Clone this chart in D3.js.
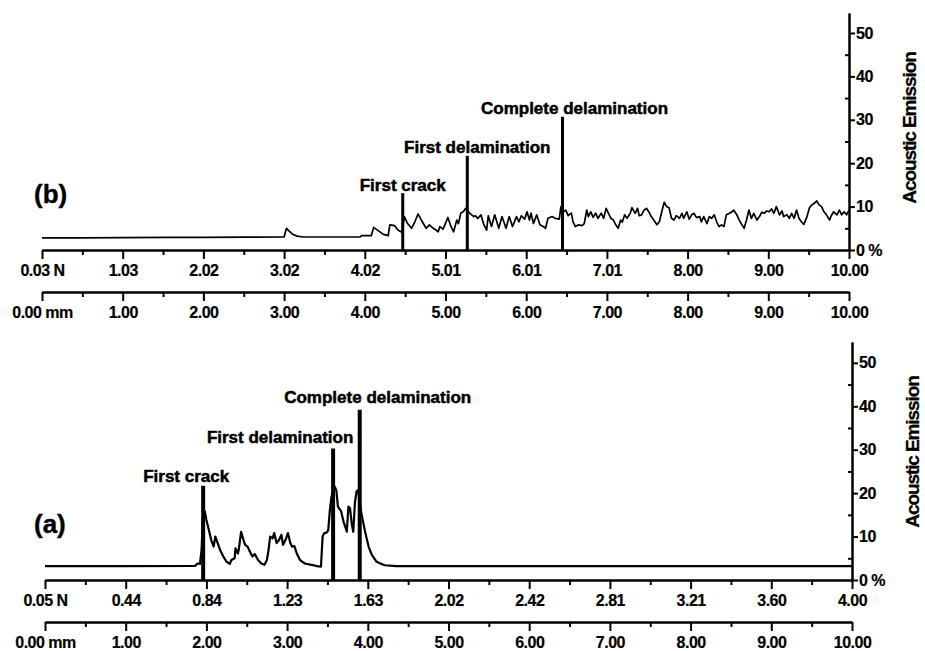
<!DOCTYPE html>
<html>
<head>
<meta charset="utf-8">
<script src="https://cdn.jsdelivr.net/npm/d3@7"></script>
<style>
  body { margin: 0; background: #fff; }
  text { font-family: 'Liberation Sans', Arial, sans-serif; font-weight: bold; fill: #000; }
</style>
</head>
<body>
<script>
// tick labels
const mmTicks = ['0.00 mm', '1.00', '2.00', '3.00', '4.00', '5.00', '6.00', '7.00', '8.00', '9.00', '10.00'];
const forceTicksB = ['0.03 N', '1.03', '2.02', '3.02', '4.02', '5.01', '6.01', '7.01', '8.00', '9.00', '10.00'];
const forceTicksA = ['0.05 N', '0.44', '0.84', '1.23', '1.63', '2.02', '2.42', '2.81', '3.21', '3.60', '4.00'];
const aeTicks = [0, 10, 20, 30, 40, 50];
const aeMinor = [5, 15, 25, 35, 45];

// acoustic emission signal, [distance mm, AE %]
const signalB = [
  [0, 2.8], [0.5, 2.8], [1.0, 2.85], [1.6, 2.9], [2.0, 2.9], [2.5, 2.95], [3.0, 3.0],
  [3.03, 5.0], [3.06, 4.4], [3.10, 3.7], [3.16, 3.2], [3.24, 3.0], [3.6, 3.0], [3.94, 3.0], [3.96, 3.3], [4.08, 3.3],
  [4.11, 5.2], [4.17, 4.4], [4.23, 3.6], [4.29, 3.3], [4.31, 5.8], [4.37, 5.6], [4.41, 4.6], [4.46, 4.1],
  [4.49, 7.7], [4.53, 6.1], [4.58, 5.0], [4.62, 6.5], [4.66, 8.3], [4.70, 6.9], [4.76, 5.0], [4.80, 5.8],
  [4.85, 5.0], [4.91, 4.2], [4.93, 5.4], [4.97, 4.8], [5.03, 7.5], [5.06, 5.8], [5.10, 4.2], [5.14, 6.9],
  [5.16, 6.1], [5.19, 8.5], [5.22, 8.8], [5.25, 9.6], [5.28, 9.0], [5.30, 8.5], [5.35, 7.7], [5.37, 7.9],
  [5.40, 7.3], [5.44, 8.1], [5.47, 6.1], [5.51, 4.6], [5.53, 7.9], [5.57, 5.4], [5.61, 8.1], [5.66, 5.0],
  [5.70, 7.7], [5.75, 5.0], [5.79, 7.7], [5.83, 5.4], [5.88, 7.7], [5.91, 6.5], [5.94, 7.9], [5.98, 7.1],
  [6.01, 8.8], [6.04, 6.9], [6.06, 8.5], [6.09, 6.1], [6.13, 8.1], [6.17, 5.8], [6.21, 5.4], [6.24, 5.0],
  [6.27, 7.3], [6.32, 7.7], [6.36, 7.3], [6.41, 7.1], [6.43, 10.0], [6.46, 8.8], [6.49, 9.2], [6.52, 7.9],
  [6.56, 8.5], [6.58, 6.5], [6.61, 5.4], [6.65, 5.8], [6.69, 5.6], [6.72, 6.1], [6.75, 9.2], [6.77, 7.7],
  [6.80, 8.8], [6.83, 7.5], [6.86, 8.5], [6.89, 7.3], [6.93, 8.5], [6.96, 7.3], [6.99, 9.6], [7.02, 8.45],
  [7.05, 7.3], [7.08, 6.9], [7.11, 5.8], [7.14, 5.0], [7.17, 6.9], [7.19, 6.4], [7.22, 8.1], [7.25, 7.3],
  [7.29, 8.5], [7.31, 9.75], [7.35, 8.45], [7.38, 9.6], [7.40, 7.9], [7.43, 8.1], [7.46, 9.2], [7.49, 9.6],
  [7.53, 8.45], [7.55, 7.7], [7.58, 6.9], [7.62, 5.8], [7.65, 6.5], [7.68, 8.8], [7.71, 11.0], [7.74, 10.0],
  [7.77, 9.75], [7.80, 7.3], [7.83, 6.9], [7.86, 7.9], [7.90, 7.3], [7.93, 8.45], [7.95, 7.3], [7.99, 8.8],
  [8.02, 7.1], [8.05, 8.1], [8.08, 8.45], [8.11, 7.45], [8.15, 7.7], [8.17, 6.5], [8.20, 7.7], [8.24, 6.1],
  [8.27, 7.7], [8.30, 7.3], [8.33, 8.1], [8.36, 6.5], [8.39, 5.4], [8.42, 5.8], [8.45, 5.4], [8.48, 8.1],
  [8.52, 8.45], [8.55, 8.8], [8.57, 9.2], [8.61, 8.1], [8.64, 6.9], [8.67, 5.9], [8.70, 5.0], [8.73, 6.9],
  [8.76, 9.2], [8.79, 7.3], [8.82, 8.45], [8.86, 6.9], [8.89, 7.7], [8.92, 8.7], [8.95, 8.45], [8.98, 9.0],
  [9.01, 8.8], [9.04, 9.45], [9.07, 8.45], [9.10, 10.0], [9.14, 8.1], [9.17, 9.0], [9.19, 7.7], [9.23, 8.1],
  [9.26, 7.3], [9.29, 8.45], [9.32, 7.3], [9.35, 9.2], [9.38, 7.3], [9.41, 6.5], [9.44, 5.9], [9.48, 7.7],
  [9.51, 9.75], [9.54, 10.4], [9.57, 10.75], [9.60, 11.3], [9.63, 10.4], [9.66, 10.0], [9.69, 8.8], [9.72, 8.1],
  [9.76, 6.9], [9.78, 7.9], [9.81, 8.8], [9.85, 8.1], [9.88, 9.2], [9.91, 8.1], [9.94, 8.8], [9.97, 8.1], [10.0, 9.2]
];

const signalA = [
  [0, 3.2], [1.0, 3.2], [1.86, 3.25], [1.89, 3.8], [1.92, 3.7], [1.94, 6.9], [1.96, 15.4], [1.98, 15.8],
  [2.00, 13.8], [2.02, 12.3], [2.06, 9.2], [2.09, 7.7], [2.11, 10.0], [2.14, 8.5], [2.17, 6.9], [2.21, 5.4],
  [2.25, 4.2], [2.29, 3.7], [2.31, 4.6], [2.35, 5.0], [2.36, 7.3], [2.39, 6.1], [2.40, 6.9], [2.43, 11.1],
  [2.46, 9.2], [2.48, 8.1], [2.51, 7.7], [2.54, 6.5], [2.57, 5.4], [2.60, 6.0], [2.64, 4.6], [2.68, 3.8],
  [2.72, 3.5], [2.75, 4.6], [2.77, 6.9], [2.79, 10.0], [2.82, 9.6], [2.84, 10.8], [2.87, 8.5], [2.90, 9.2],
  [2.93, 10.4], [2.95, 8.1], [2.98, 9.2], [3.01, 10.8], [3.04, 8.5], [3.06, 7.7], [3.09, 7.8], [3.12, 6.1],
  [3.16, 4.6], [3.22, 3.8], [3.30, 3.5], [3.37, 3.2], [3.42, 3.1], [3.44, 10.0], [3.46, 10.8], [3.49, 10.9],
  [3.51, 11.5], [3.53, 16.1], [3.55, 19.2], [3.59, 21.5], [3.61, 20.7], [3.63, 16.9], [3.67, 15.8], [3.70, 13.4],
  [3.72, 12.3], [3.74, 11.1], [3.76, 16.9], [3.78, 16.5], [3.80, 13.1], [3.82, 11.1], [3.84, 17.7], [3.86, 20.4],
  [3.88, 20.7], [3.92, 15.4], [3.97, 10.8], [4.01, 7.7], [4.05, 5.8], [4.11, 4.2], [4.17, 3.7], [4.21, 3.4],
  [4.35, 3.2], [6.0, 3.2], [8.0, 3.2], [10.0, 3.2]
];

// event markers: [label, distance mm, AE %]
const eventsB = [['First crack', 4.47, 13.1], ['First delamination', 5.27, 21.7], ['Complete delamination', 6.45, 30.7]];
const eventsA = [['First crack', 1.96, 21.7], ['First delamination', 3.57, 30.3], ['Complete delamination', 3.90, 39.2]];

const w = 925;
const h = 651;

const svg = d3.select('body')
  .append('svg')
  .attr('width', w)
  .attr('height', h);

const styleAxis = (g, fontSize) => {
  g.select('.domain').attr('stroke', '#000').attr('stroke-width', 2);
  g.selectAll('.tick line').attr('stroke', '#000').attr('stroke-width', 2);
  g.selectAll('.tick text')
    .style('font-size', fontSize + 'px')
    .style('font-family', "'Liberation Sans', Arial, sans-serif")
    .style('font-weight', 'bold')
    .attr('letter-spacing', -0.5)
    .attr('fill', '#000')
    .attr('stroke', '#000')
    .attr('stroke-width', 0.2);
};

const drawPanel = (p) => {
  const x = d3.scaleLinear().domain([0, 10]).range([p.x0, p.x1]);
  const y = d3.scaleLinear().domain([0, p.yMax]).range([p.yBase, p.yTop]);
  const g = svg.append('g');

  // force axis and distance axis
  [[p.yBase, p.forceTicks], [p.mmY, mmTicks]].forEach(([ay, labels]) => {
    const major = d3.axisBottom(x).tickValues(d3.range(0, 11)).tickFormat((d, i) => labels[i])
      .tickSize(9).tickSizeOuter(0).tickPadding(6);
    const minor = d3.axisBottom(x).tickValues(d3.range(0.5, 10, 1)).tickFormat('')
      .tickSize(5).tickSizeOuter(0);
    g.append('g').attr('transform', `translate(0,${ay})`).call(minor).call(a => styleAxis(a, 16));
    g.append('g').attr('transform', `translate(0,${ay})`).call(major).call(a => styleAxis(a, 16));
  });

  // AE axis
  const yMinor = d3.axisLeft(y).tickValues(aeMinor).tickFormat('').tickSize(4).tickSizeOuter(0);
  const yMajor = d3.axisRight(y).tickValues(aeTicks).tickFormat(d => d === 0 ? '0 %' : d)
    .tickSize(6).tickSizeOuter(0).tickPadding(1);
  g.append('g').attr('transform', `translate(${p.x1},0)`).call(yMinor).call(a => styleAxis(a, 16));
  g.append('g').attr('transform', `translate(${p.x1},0)`).call(yMajor).call(a => styleAxis(a, 16));

  g.append('text')
    .text('Acoustic Emission')
    .attr('transform', `translate(${p.x1 + 67},${p.titleY}) rotate(-90)`)
    .attr('text-anchor', 'middle')
    .style('font-size', '19px')
    .attr('letter-spacing', -1.1)
    .attr('stroke', '#000')
    .attr('stroke-width', 0.3);

  // signal
  const line = d3.line().x(d => x(d[0])).y(d => y(d[1]));
  g.append('path')
    .datum(p.signal)
    .attr('d', line)
    .attr('fill', 'none')
    .attr('stroke', '#000')
    .attr('stroke-width', p.lineW)
    .attr('stroke-linejoin', 'round');

  // event markers
  p.events.forEach((e, i) => {
    g.append('line')
      .attr('x1', x(e[1])).attr('x2', x(e[1]))
      .attr('y1', y(0)).attr('y2', y(e[2]))
      .attr('stroke', '#000')
      .attr('stroke-width', p.eventW);
    g.append('text')
      .text(e[0])
      .attr('x', x(e[1]) + p.labelDx[i])
      .attr('y', y(e[2]) + p.labelDy[i])
      .attr('text-anchor', 'middle')
      .style('font-size', '17px')
      .attr('letter-spacing', 0)
      .attr('stroke', '#000')
      .attr('stroke-width', 0.5);
  });

  g.append('text')
    .text(p.tag)
    .attr('x', 34)
    .attr('y', p.tagY)
    .style('font-size', '26px')
    .attr('stroke', '#000')
    .attr('stroke-width', 0.4);
};

drawPanel({
  x0: 42, x1: 849, yBase: 250, yTop: 13, yMax: 54.6, mmY: 292,
  forceTicks: forceTicksB, signal: signalB, events: eventsB,
  labelDx: [0, 10, 12], labelDy: [-2, -3, -3],
  lineW: 1.7, eventW: 3, tag: '(b)', tagY: 203, titleY: 128
});

drawPanel({
  x0: 45, x1: 852, yBase: 580, yTop: 342, yMax: 54.8, mmY: 622,
  forceTicks: forceTicksA, signal: signalA, events: eventsA,
  labelDx: [-17, -53, 18], labelDy: [-4, -5, -7],
  lineW: 2.2, eventW: 4, tag: '(a)', tagY: 533, titleY: 452
});
</script>
</body>
</html>
